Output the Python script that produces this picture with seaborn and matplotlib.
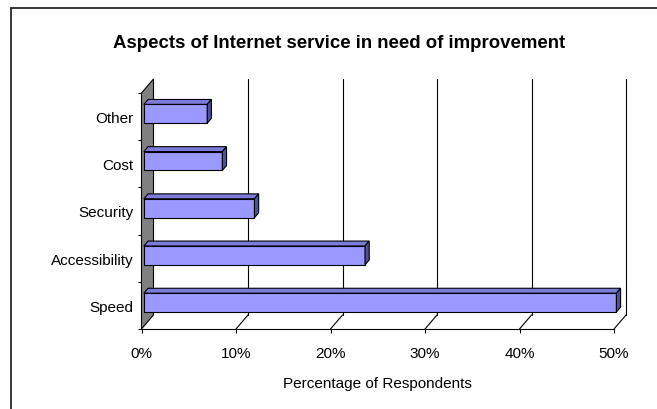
import numpy as np
import pandas as pd
import matplotlib
matplotlib.use("Agg")
import matplotlib.pyplot as plt
import matplotlib.transforms as mtransforms
from matplotlib.patches import Polygon
from matplotlib.lines import Line2D
import seaborn as sns

# ---- data -------------------------------------------------------------
categories = ["Other", "Cost", "Security", "Accessibility", "Speed"]
percent = [6.7, 8.3, 11.7, 23.4, 50.0]
x_ticks = [0, 10, 20, 30, 40, 50]
x_tick_labels = ["0%", "10%", "20%", "30%", "40%", "50%"]

title = "Aspects of Internet service in need of improvement"
x_label = "Percentage of Respondents"

# ---- figure setup -------------------------------------------------------
W, H, DPI = 657, 410, 100
sns.set_theme(style="white")
plt.rcParams["font.family"] = ["Liberation Sans", "DejaVu Sans"]

fig = plt.figure(figsize=(W / DPI, H / DPI), dpi=DPI)
fig.patch.set_facecolor("white")

# front plane of the pseudo-3D plot box, in pixels from the top-left corner
left, right, top, bottom = 141.5, 614.0, 94.0, 330.0
ax = fig.add_axes([left / W, 1 - bottom / H, (right - left) / W, (bottom - top) / H])
ax.set_facecolor("none")

df = pd.DataFrame({"aspect": categories, "percent": percent})
sns.barplot(data=df, x="percent", y="aspect", order=categories, orient="h",
            color="#9999FF", saturation=1, width=0.4, edgecolor="black",
            linewidth=0.8, ax=ax, zorder=4)

ax.set_xlim(0, 50)
ax.set_ylim(len(categories) - 0.5, -0.5)
ax.set_xlabel("")
ax.set_ylabel("")

# depth direction of the box (pixels, display orientation: right / up)
DEPTH = np.array([12.0, 14.0])
BAR_FRONT = 0.2     # fraction of box depth where bar fronts sit
BAR_BACK = 0.55     # fraction of box depth where bar backs sit


def shift(frac):
    d = DEPTH * frac
    return mtransforms.ScaledTranslation(d[0] / DPI, d[1] / DPI, fig.dpi_scale_trans)


def to_fig(pts_px):
    pts = np.asarray(pts_px, dtype=float)
    return np.column_stack([pts[:, 0] / W, pts[:, 1] / H])


def disp(x, y, frac=0.0):
    return (ax.transData + shift(frac)).transform((x, y))


y_lo, y_hi = len(categories) - 0.5, -0.5

# left (gray) side wall
wall = [disp(0, y_lo), disp(0, y_hi), disp(0, y_hi, 1), disp(0, y_lo, 1)]
ax.add_patch(Polygon(to_fig(wall), closed=True, facecolor="#808080",
                     edgecolor="black", linewidth=0.8, transform=fig.transFigure,
                     clip_on=False, zorder=1))

# gridlines on the back wall plus floor diagonals
for v in x_ticks[1:]:
    b0, b1 = disp(v, y_lo, 1), disp(v, y_hi, 1)
    f0 = disp(v, y_lo)
    for a, b in [(b0, b1), (f0, b0)]:
        ax.add_line(Line2D([a[0] / W, b[0] / W], [a[1] / H, b[1] / H],
                           transform=fig.transFigure, color="black",
                           linewidth=0.8, clip_on=False, zorder=2))

# bars: shift the fronts into depth and add top / side faces
for p in list(ax.containers[0]):
    x0, y0 = p.get_x(), p.get_y()
    x1, y1 = x0 + p.get_width(), y0 + p.get_height()
    p.set_transform(ax.transData + shift(BAR_FRONT))
    p.set_clip_on(False)
    c = [disp(xx, yy, BAR_FRONT) for xx, yy in [(x0, y0), (x1, y0), (x1, y1), (x0, y1)]]
    xs = [q[0] for q in c]
    ys = [q[1] for q in c]
    L, R, B, T = min(xs), max(xs), min(ys), max(ys)
    dd = DEPTH * (BAR_BACK - BAR_FRONT)
    top_face = [(L, T), (R, T), (R + dd[0], T + dd[1]), (L + dd[0], T + dd[1])]
    side_face = [(R, B), (R, T), (R + dd[0], T + dd[1]), (R + dd[0], B + dd[1])]
    ax.add_patch(Polygon(to_fig(top_face), closed=True, facecolor="#7B7BDB",
                         edgecolor="black", linewidth=0.8,
                         transform=fig.transFigure, clip_on=False, zorder=4))
    ax.add_patch(Polygon(to_fig(side_face), closed=True, facecolor="#50509A",
                         edgecolor="black", linewidth=0.8,
                         transform=fig.transFigure, clip_on=False, zorder=4))

# axes styling
for s in ["top", "right", "left"]:
    ax.spines[s].set_visible(False)
ax.spines["bottom"].set_color("black")
ax.spines["bottom"].set_linewidth(0.8)
ax.spines["bottom"].set_zorder(3)

ax.set_xticks(x_ticks)
ax.set_xticklabels(x_tick_labels, fontsize=11)
ax.tick_params(axis="x", which="major", bottom=True, length=3, width=0.8,
               color="black", direction="out", pad=9, labelcolor="black")
ax.set_yticks(range(len(categories)))
ax.set_yticklabels(categories, fontsize=11)
ax.set_yticks(np.arange(-0.5, len(categories), 1.0), minor=True)
ax.tick_params(axis="y", which="major", left=False, length=0, pad=6, labelcolor="black")
ax.tick_params(axis="y", which="minor", left=True, length=3, width=0.8,
               color="black", direction="out")

ax.set_xlabel(x_label, fontsize=11, labelpad=12, color="black")

fig.text(339 / W, 1 - 44 / H, title, ha="center", va="center",
         fontsize=13.4, fontweight="bold", color="black")

# chart border (runs off the right and bottom edges)
fig.add_artist(Line2D([10.5 / W, 10.5 / W], [1 - 9 / H, -0.1], transform=fig.transFigure,
                      color="#262626", linewidth=1.3))
fig.add_artist(Line2D([10.5 / W, 1.1], [1 - 9 / H, 1 - 9 / H], transform=fig.transFigure,
                      color="#262626", linewidth=1.3))

fig.savefig("out.png", dpi=DPI, facecolor="white")
